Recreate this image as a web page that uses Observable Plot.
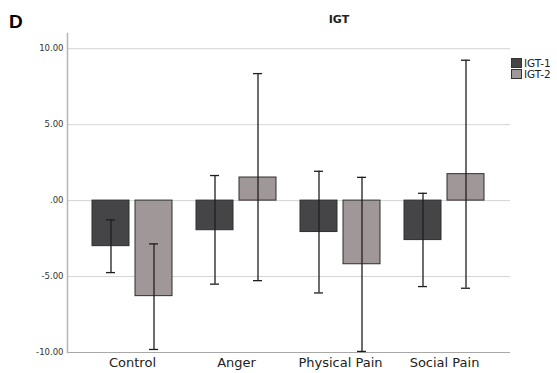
<!DOCTYPE html>
<html>
<head>
<meta charset="utf-8">
<script src="https://cdn.jsdelivr.net/npm/d3@7"></script>
<script src="https://cdn.jsdelivr.net/npm/@observablehq/plot@0.6"></script>
<style>
  body { margin: 0; background: #fff; }
  #wrap { position: relative; width: 557px; height: 373px; font-family: "DejaVu Sans", sans-serif; }
  #panel { position: absolute; left: 9px; top: 11px; font: bold 19px "Liberation Sans", Arial, sans-serif; color: #000; }
  #title { position: absolute; left: 0; width: 678px; top: 13px; text-align: center; font: bold 11px "DejaVu Sans", sans-serif; color: #222; }
  #legend { position: absolute; left: 511px; top: 57px; font: 10.5px "DejaVu Sans", sans-serif; color: #222; }
  .row { display: flex; align-items: center; height: 11px; }
  .sw { width: 11px; height: 10px; border: 1px solid #333; margin-right: 2px; box-sizing: border-box; }
</style>
</head>
<body>
<div id="wrap">
  <div id="panel">D</div>
  <div id="title">IGT</div>
  <div id="legend"></div>
</div>
<script>
const categories = ["Control", "Anger", "Physical Pain", "Social Pain"];
const seriesNames = ["IGT-1", "IGT-2"];
const seriesColors = ["#454547", "#a09898"];
const igt1Mean = [-3.0, -1.95, -2.07, -2.6];
const igt1Low  = [-4.74, -5.5, -6.08, -5.66];
const igt1High = [-1.27, 1.65, 1.93, 0.48];
const igt2Mean = [-6.29, 1.52, -4.19, 1.74];
const igt2Low  = [-9.8, -5.27, -9.93, -5.77];
const igt2High = [-2.85, 8.36, 1.53, 9.24];
const yTicks = [10, 5, 0, -5, -10];

const s1 = categories.map((c, i) => ({category: c, series: seriesNames[0], mean: igt1Mean[i], lo: igt1Low[i], hi: igt1High[i]}));
const s2 = categories.map((c, i) => ({category: c, series: seriesNames[1], mean: igt2Mean[i], lo: igt2Low[i], hi: igt2High[i]}));

const barStroke = "#2e2e2e";
const errStroke = "#1e1e1e";

const plot = Plot.plot({
  width: 557,
  height: 373,
  marginLeft: 67,
  marginRight: 47,
  marginTop: 33,
  marginBottom: 21,
  style: {fontFamily: "DejaVu Sans, sans-serif", background: "transparent"},
  x: {domain: categories, padding: 0.227, label: null},
  y: {domain: [-10, 11], label: null},
  color: {domain: seriesNames, range: seriesColors},
  marks: [
    Plot.gridY(yTicks, {stroke: "#d4d4d4", strokeOpacity: 1, strokeWidth: 1}),
    Plot.ruleY([-10], {stroke: "#a8a8a8", strokeWidth: 1.2}),
    Plot.frame({anchor: "left", stroke: "#b8b8b8", strokeWidth: 1.6}),
    Plot.axisY({ticks: yTicks, tickSize: 0, tickPadding: 4, fontSize: 8.5, fill: "#333",
      tickFormat: d => d === 0 ? ".00" : d.toFixed(2)}),
    Plot.axisX({tickSize: 0, tickPadding: 5, fontSize: 13, fill: "#222"}),
    Plot.barY(s1, {x: "category", y: "mean", fill: "series", stroke: barStroke, strokeWidth: 1, insetRight: 43}),
    Plot.barY(s2, {x: "category", y: "mean", fill: "series", stroke: barStroke, strokeWidth: 1, insetLeft: 43}),
    Plot.ruleX(s1, {x: "category", y1: "lo", y2: "hi", dx: -21.5, stroke: errStroke, strokeWidth: 1.3}),
    Plot.ruleX(s2, {x: "category", y1: "lo", y2: "hi", dx: 21.5, stroke: errStroke, strokeWidth: 1.3}),
    Plot.tickY(s1, {x: "category", y: "hi", insetLeft: 14, insetRight: 57, stroke: errStroke, strokeWidth: 1.3}),
    Plot.tickY(s1, {x: "category", y: "lo", insetLeft: 14, insetRight: 57, stroke: errStroke, strokeWidth: 1.3}),
    Plot.tickY(s2, {x: "category", y: "hi", insetLeft: 57, insetRight: 14, stroke: errStroke, strokeWidth: 1.3}),
    Plot.tickY(s2, {x: "category", y: "lo", insetLeft: 57, insetRight: 14, stroke: errStroke, strokeWidth: 1.3})
  ]
});
plot.style.position = "absolute";
plot.style.left = "0";
plot.style.top = "0";
document.getElementById("wrap").prepend(plot);

const legend = document.getElementById("legend");
seriesNames.forEach((name, i) => {
  const row = document.createElement("div");
  row.className = "row";
  const sw = document.createElement("div");
  sw.className = "sw";
  sw.style.background = seriesColors[i];
  const t = document.createElement("span");
  t.textContent = name;
  row.appendChild(sw);
  row.appendChild(t);
  legend.appendChild(row);
});
</script>
</body>
</html>
